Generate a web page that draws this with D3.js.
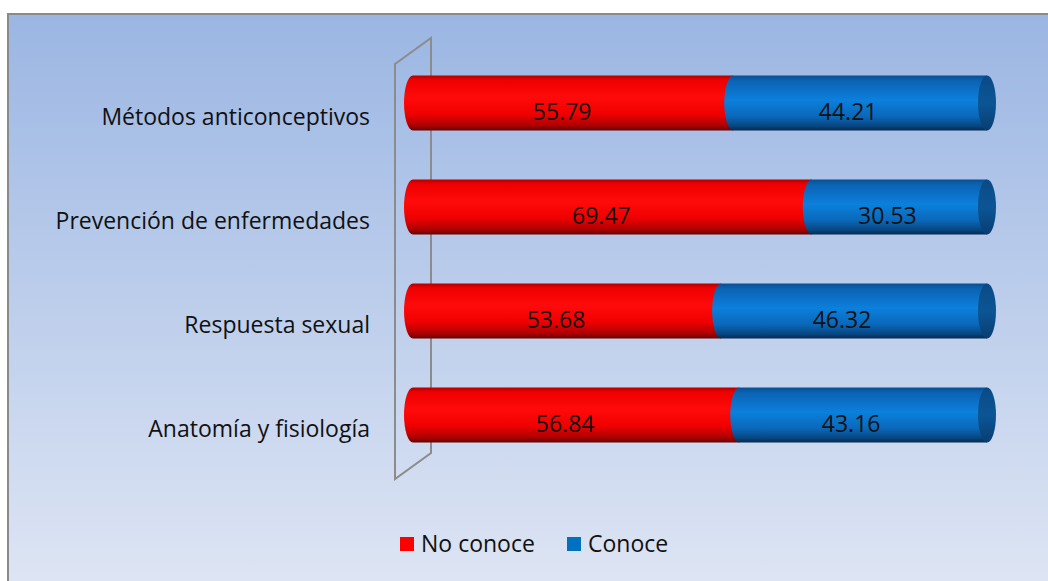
<!DOCTYPE html>
<html><head><meta charset="utf-8">
<script src="https://cdn.jsdelivr.net/npm/d3@7"></script>
<style>html,body{margin:0;padding:0;background:#fff;}svg{display:block;}</style>
</head><body>
<script>
const categories = ["Métodos anticonceptivos","Prevención de enfermedades","Respuesta sexual","Anatomía y fisiología"];
const noConoce = [55.79, 69.47, 53.68, 56.84];
const conoce = [44.21, 30.53, 46.32, 43.16];
const seriesNames = ["No conoce","Conoce"];

const W=1048,H=581;
const FONT="'Open Sans', 'Noto Sans', sans-serif", FS=23;
const svg=d3.select("body").append("svg").attr("width",W).attr("height",H);
const defs=svg.append("defs");
const bg=defs.append("linearGradient").attr("id","bg").attr("x1",0).attr("y1",0).attr("x2",0).attr("y2",1);
bg.append("stop").attr("offset","0%").attr("stop-color","#9bb6e3");
bg.append("stop").attr("offset","100%").attr("stop-color","#dfe6f4");
function grad(id,stops){const g=defs.append("linearGradient").attr("id",id).attr("x1",0).attr("y1",0).attr("x2",0).attr("y2",1);
 stops.forEach(s=>g.append("stop").attr("offset",s[0]).attr("stop-color",s[1]));}
grad("gRed",[["0%","#b00000"],["8%","#ee0000"],["40%","#ff0a0a"],["70%","#f00000"],["90%","#b00000"],["100%","#6a0000"]]);
grad("gBlue",[["0%","#0a4f90"],["10%","#0b63b4"],["45%","#0b80dc"],["75%","#0a67b8"],["92%","#07457f"],["100%","#042a50"]]);
grad("gCap",[["0%","#0a4a86"],["50%","#0c5595"],["100%","#083d72"]]);

svg.append("rect").attr("x",8).attr("y",14).attr("width",W).attr("height",H).attr("fill","url(#bg)").attr("stroke","#8a8a8a").attr("stroke-width",2);

const y=d3.scaleBand().domain(categories).range([51,467]).paddingInner(0.47).paddingOuter(0.235);
const x=d3.scaleLinear().domain([0,100]).range([413,987]);
const bh=y.bandwidth(), rx=9;

const [y0,y1]=y.range();
svg.append("path").attr("d",`M395,${y0+13} L431,${y0-13} L431,${y1-14} L395,${y1+12} Z`)
 .attr("fill","none").attr("stroke","#8c8c8c").attr("stroke-width",2);

function seg(xa,xb,yt){const ry=bh/2;
 return `M${xa},${yt} L${xb},${yt} L${xb},${yt+bh} L${xa},${yt+bh} A${rx},${ry} 0 0 1 ${xa},${yt} Z`;}

const data=categories.map((c,i)=>({c,a:noConoce[i],b:conoce[i]}));
const g=svg.append("g");
data.forEach(d=>{
 const yt=y(d.c);
 g.append("path").attr("d",seg(x(0),x(d.a),yt)).attr("fill","url(#gRed)");
 g.append("path").attr("d",seg(x(d.a),x(d.a+d.b),yt)).attr("fill","url(#gBlue)");
 g.append("ellipse").attr("cx",x(d.a+d.b)).attr("cy",yt+bh/2).attr("rx",rx).attr("ry",bh/2).attr("fill","url(#gCap)");
 g.append("text").attr("x",(x(0)+x(d.a))/2-11).attr("y",yt+bh/2+9).attr("dy","0.35em").attr("text-anchor","middle")
  .attr("font-family",FONT).attr("font-size",FS).attr("fill","#111").text(d.a.toFixed(2));
 g.append("text").attr("x",(x(d.a)+x(d.a+d.b))/2-12).attr("y",yt+bh/2+9).attr("dy","0.35em").attr("text-anchor","middle")
  .attr("font-family",FONT).attr("font-size",FS).attr("fill","#111").text(d.b.toFixed(2));
 svg.append("text").attr("x",370).attr("y",yt+bh/2+14).attr("dy","0.35em").attr("text-anchor","end")
  .attr("font-family",FONT).attr("font-size",FS).attr("fill","#111").text(d.c);
});

const leg=[{n:seriesNames[0],c:"#ff0000",x:400},{n:seriesNames[1],c:"#0070c0",x:567}];
leg.forEach(l=>{
 svg.append("rect").attr("x",l.x).attr("y",537).attr("width",14).attr("height",14).attr("fill",l.c);
 svg.append("text").attr("x",l.x+21).attr("y",544).attr("dy","0.35em").attr("font-family",FONT)
  .attr("font-size",FS).attr("fill","#111").text(l.n);
});
</script>
</body></html>
